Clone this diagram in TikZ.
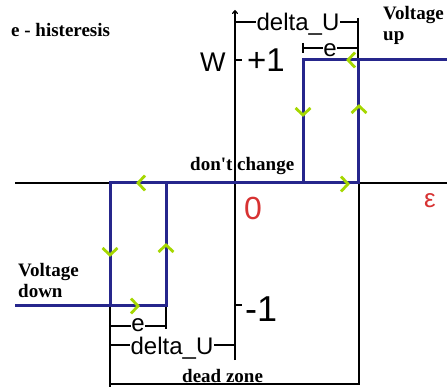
\documentclass[tikz,border=0pt]{standalone}
\usepackage{fontspec}
\setmainfont{Liberation Serif}
\newfontfamily\arialf{Liberation Sans}
\usetikzlibrary{arrows.meta}
\definecolor{navy}{RGB}{38,38,140}
\definecolor{chevgreen}{RGB}{165,215,0}
\definecolor{redlbl}{RGB}{215,50,50}
\begin{document}
\begin{tikzpicture}[x=1pt,y=-1pt,
  thinline/.style={line width=1.2pt, black},
  bluepath/.style={line width=3pt, navy, line join=miter},
  chevline/.style={line width=2.8pt, chevgreen},
  boldlbl/.style={font=\fontsize{19}{21}\selectfont\bfseries, inner sep=0pt, anchor=base west, align=left},
  dimlbl/.style={font=\arialf\fontsize{24}{24}\selectfont, inner sep=0.5pt, fill=white, anchor=base},
  axlbl/.style={inner sep=0pt, anchor=base west},
  chev/.pic={\draw[chevline] (-7,-7.5) -- (0,0) -- (-7,7.5);}
]
\useasboundingbox (0,0) rectangle (447,387);
% coordinates
\coordinate (vtop) at (235,10);
\coordinate (vbot) at (235,360);
\coordinate (hl) at (15,183);
\coordinate (hr) at (447,183);
% axes
\draw[thinline] (hl) -- (hr);
\draw[thinline, -{To[length=4pt,width=6pt]}] (vbot) -- (vtop);
\draw[thinline] (235,60) -- (242,60);
\draw[thinline] (235,305) -- (242,305);
% dimension lines
\coordinate (dUt1) at (235,22);
\coordinate (dUt2) at (358,22);
\draw[thinline] (dUt1) -- (dUt2);
\draw[thinline] (358,18) -- (358,60);
\draw[thinline] (303,48) -- (358,48);
\draw[thinline] (303,43) -- (303,53);
\draw[thinline] (110,326) -- (166,326);
\draw[thinline] (166,306) -- (166,329);
\draw[thinline] (110,345) -- (235,345);
\draw[thinline] (110,306) -- (110,387);
\draw[thinline] (359,183) -- (359,385);
\draw[thinline] (110,384) -- (359,384);
% dimension labels
\node[dimlbl] (dUtop) at (298,31) {delta\_U};
\node[dimlbl] (etop) at (330,57) {e};
\node[dimlbl] (ebot) at (138,331.5) {e};
\node[dimlbl] (dUbot) at (172,354.5) {delta\_U};
% blue characteristic
\draw[bluepath] (15,306) -- (166,306) -- (166,183);
\draw[bluepath] (110,306) -- (110,183) -- (358,183) -- (358,60) -- (447,60);
\draw[bluepath] (303,183) -- (303,60) -- (358,60);
% chevrons
\pic[rotate=180] at (348,60) {chev};
\pic[rotate=-90] at (303,115) {chev};
\pic[rotate=90] at (359,106) {chev};
\pic at (348,184) {chev};
\pic[rotate=180] at (138,183) {chev};
\pic[rotate=-90] at (110,255) {chev};
\pic[rotate=90] at (166,245) {chev};
\pic at (138,306) {chev};
% axis labels
\node[axlbl, font=\arialf\fontsize{27}{27}\selectfont] (W) at (200,72) {W};
\node[axlbl, font=\arialf\fontsize{33}{33}\selectfont] (p1) at (247,72) {+1};
\node[axlbl, font=\arialf\fontsize{36}{36}\selectfont] (m1) at (245,322) {-1};
\node[axlbl, font=\arialf\fontsize{32}{32}\selectfont, text=redlbl] (zero) at (244,220) {0};
\node[axlbl, font=\arialf\fontsize{26}{26}\selectfont, text=redlbl] (eps) at (424,208) {ε};
% bold labels
\node[boldlbl] (hist) at (11,37) {e - histeresis};
\node[boldlbl] (vup) at (383,41) {Voltage\\up};
\node[boldlbl] (vdown) at (18,298) {Voltage\\down};
\node[boldlbl] (dc) at (190,171) {don\textquotesingle t change};
\node[boldlbl] (dz) at (182,382) {dead zone};
\end{tikzpicture}
\end{document}
